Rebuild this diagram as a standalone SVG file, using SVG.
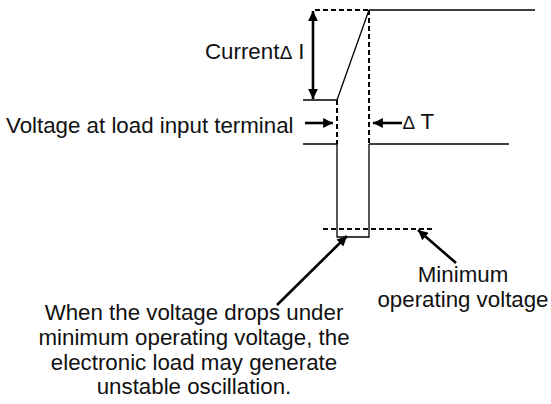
<svg xmlns="http://www.w3.org/2000/svg" width="551" height="404" viewBox="0 0 551 404">
<defs>
<marker id="ah" viewBox="0 0 10 10" refX="10" refY="5" markerWidth="4.8" markerHeight="3.8" markerUnits="strokeWidth" orient="auto-start-reverse">
<path d="M0,0 L10,5 L0,10 Z" fill="#000"/>
</marker>
</defs>
<style>
.t{font-family:"Liberation Sans",Arial,sans-serif;font-size:22.3px;fill:#111}
.g{font-size:19px}
.s{stroke:#000;stroke-width:1.3;fill:none}
.d{stroke:#000;stroke-width:2;fill:none;stroke-dasharray:5,3}
.a{stroke:#000;stroke-width:2.6;fill:none}
</style>
<rect width="551" height="404" fill="#fff"/>
<g id="waveform">
<line class="s" x1="369" y1="10" x2="535" y2="10"/>
<line class="s" x1="303" y1="100" x2="337" y2="100"/>
<line class="s" x1="337" y1="100" x2="369" y2="10"/>
<line class="s" x1="303" y1="144" x2="337" y2="144"/>
<line class="s" x1="369" y1="144" x2="509" y2="144"/>
<path class="s" d="M337,144 V237 H369 V144"/>
</g>
<g id="dashed-guides">
<line class="d" x1="315" y1="10" x2="369" y2="10"/>
<line class="d" x1="337" y1="100" x2="337" y2="144"/>
<line class="d" x1="369" y1="10" x2="369" y2="144"/>
<line class="d" x1="323" y1="229" x2="433" y2="229"/>
</g>
<g id="connectors">
<line class="a" x1="313" y1="11" x2="313" y2="99" marker-start="url(#ah)" marker-end="url(#ah)"/>
<line class="a" x1="305" y1="123" x2="333" y2="123" marker-end="url(#ah)"/>
<line class="a" x1="402" y1="123" x2="373" y2="123" marker-end="url(#ah)"/>
<line class="a" x1="277" y1="305" x2="347" y2="236" marker-end="url(#ah)"/>
<line class="a" x1="456" y1="263" x2="418" y2="230" marker-end="url(#ah)"/>
</g>
<g id="label-current">
<text class="t" x="205" y="59">Current<tspan class="g" dx="1">∆</tspan> I</text>
</g>
<g id="label-voltage">
<text class="t" x="6" y="133">Voltage at load input terminal</text>
</g>
<g id="label-dt">
<text class="t" x="403" y="129"><tspan class="g">∆</tspan> T</text>
</g>
<g id="label-min">
<text class="t" x="463" y="282" text-anchor="middle">Minimum</text>
<text class="t" x="463" y="307" text-anchor="middle">operating voltage</text>
</g>
<g id="label-note">
<text class="t" text-anchor="middle"><tspan x="194" y="320">When the voltage drops under</tspan><tspan x="194" y="345">minimum operating voltage, the</tspan><tspan x="194" y="370">electronic load may generate</tspan><tspan x="194" y="394">unstable oscillation.</tspan></text>
</g>
</svg>
